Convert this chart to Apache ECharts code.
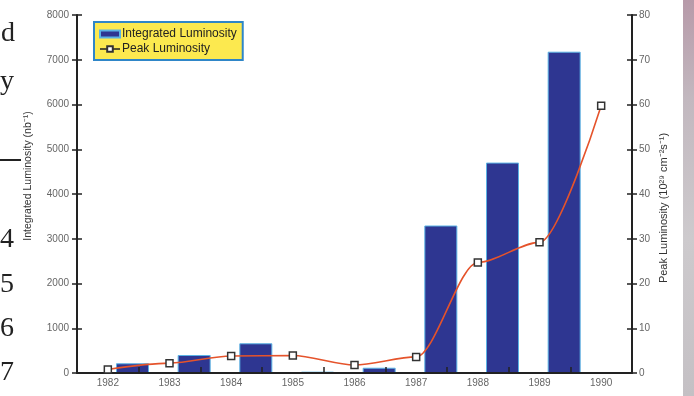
<!DOCTYPE html>
<html>
<head>
<meta charset="utf-8">
<script src="https://cdn.jsdelivr.net/npm/echarts@6/dist/echarts.min.js"></script>
<style>
  html, body { margin: 0; padding: 0; background: #fff; }
  #chart { width: 694px; height: 396px; }
</style>
</head>
<body>
<div id="chart"></div>
<script>
// Collider luminosity by running year
const years = [1982, 1983, 1984, 1985, 1986, 1987, 1988, 1989, 1990];
const barYears = [1982, 1983, 1984, 1985, 1986, 1987, 1988, 1989];
const integratedLumi = [217, 402, 664, 30, 118, 3296, 4702, 7180];      // nb^-1
const peakLumi = [0.8, 2.2, 3.8, 3.9, 1.8, 3.6, 24.7, 29.2, 59.7];       // 10^29 cm^-2 s^-1
const leftTicks = [0, 1000, 2000, 3000, 4000, 5000, 6000, 7000, 8000];
const rightTicks = [0, 10, 20, 30, 40, 50, 60, 70, 80];

// each year's bar sits in the half-year after its label
const BAR_SHIFT = 0.4;
const boundaries = years.slice(0, -1).map(y => y + 0.5);

const axisFont = "'Liberation Sans', Arial, sans-serif";
const serifFont = "'Liberation Serif', 'DejaVu Serif', serif";
const labelStyle = { color: '#666', fontSize: 10, fontFamily: axisFont };

const chart = echarts.init(document.getElementById('chart'));

const leftAxisBase = {
  type: 'value', min: leftTicks[0], max: leftTicks[leftTicks.length - 1],
  interval: leftTicks[1] - leftTicks[0], splitLine: { show: false }
};
const rightAxisBase = {
  type: 'value', min: rightTicks[0], max: rightTicks[rightTicks.length - 1],
  interval: rightTicks[1] - rightTicks[0], splitLine: { show: false }
};

function pageText(text, x, y) {
  return { type: 'text', x: x, y: y,
           style: { text: text, fill: '#222', fontSize: 28, fontFamily: serifFont } };
}

chart.setOption({
  animation: false,
  backgroundColor: '#fff',
  grid: { left: 77, right: 62, top: 15, bottom: 23, containLabel: false },
  legend: {
    orient: 'vertical',
    left: 94, top: 22,
    padding: [6, 6, 5, 5],
    itemGap: 3,
    itemWidth: 20, itemHeight: 7,
    backgroundColor: '#fce94f',
    borderColor: '#2f86c8',
    borderWidth: 2,
    textStyle: { color: '#222', fontSize: 12, fontFamily: axisFont, padding: [0, 0, 0, -3] },
    data: [
      { name: 'Integrated Luminosity', icon: 'rect' },
      { name: 'Peak Luminosity', lineStyle: { color: '#222', width: 1.5 } }
    ]
  },
  xAxis: [
    {
      type: 'value', position: 'bottom', z: 4,
      min: years[0] - 0.5, max: years[years.length - 1] + 0.5,
      splitLine: { show: false },
      axisLine: { show: true, lineStyle: { color: '#222', width: 2 } },
      axisTick: { show: true, inside: true, length: 6, customValues: boundaries,
                  lineStyle: { color: '#222', width: 1.5 } },
      axisLabel: { ...labelStyle, margin: 5, customValues: years, formatter: v => String(v) }
    },
    {
      type: 'value', position: 'top',
      min: years[0] - 0.5, max: years[years.length - 1] + 0.5,
      splitLine: { show: false },
      axisLine: { show: true, lineStyle: { color: '#777', width: 2 } },
      axisTick: { show: false }, axisLabel: { show: false }
    }
  ],
  yAxis: [
    {
      ...leftAxisBase, position: 'left',
      axisLine: { show: true, lineStyle: { color: '#222', width: 2 } },
      axisTick: { show: true, length: 5, lineStyle: { color: '#222', width: 1.5 } },
      axisLabel: { ...labelStyle, margin: 8, formatter: v => String(v) }
    },
    {
      ...rightAxisBase, position: 'right',
      axisLine: { show: true, lineStyle: { color: '#222', width: 2 } },
      axisTick: { show: true, length: 5, lineStyle: { color: '#222', width: 1.5 } },
      axisLabel: { ...labelStyle, margin: 7, formatter: v => String(v) }
    },
    {
      ...leftAxisBase, position: 'left',
      axisLine: { show: false },
      axisTick: { show: true, inside: true, length: 5, lineStyle: { color: '#222', width: 1.5 } },
      axisLabel: { show: false }
    },
    {
      ...rightAxisBase, position: 'right',
      axisLine: { show: false },
      axisTick: { show: true, inside: true, length: 5, lineStyle: { color: '#222', width: 1.5 } },
      axisLabel: { show: false }
    }
  ],
  series: [
    {
      name: 'Integrated Luminosity',
      type: 'bar',
      xAxisIndex: 0, yAxisIndex: 0,
      barWidth: 33,
      itemStyle: { color: '#2e3691', borderColor: '#5ab2e4', borderWidth: 1 },
      data: barYears.map((y, i) => [y + BAR_SHIFT, integratedLumi[i]]),
      z: 2
    },
    {
      name: 'Peak Luminosity',
      type: 'line',
      xAxisIndex: 0, yAxisIndex: 1,
      smooth: 0.3,
      smoothMonotone: 'x',
      symbol: 'rect', symbolSize: 7,
      lineStyle: { color: '#e5532b', width: 1.6 },
      itemStyle: { color: '#fff', borderColor: '#333', borderWidth: 1.5 },
      data: years.map((y, i) => [y, peakLumi[i]]),
      z: 5
    }
  ],
  graphic: [
    {
      type: 'text', rotation: Math.PI / 2, x: 28, y: 176,
      style: { text: 'Integrated Luminosity (nb⁻¹)', fill: '#333', fontSize: 10.5,
               fontFamily: axisFont, align: 'center', verticalAlign: 'middle' }
    },
    {
      type: 'text', rotation: Math.PI / 2, x: 664, y: 208,
      style: { text: 'Peak Luminosity (10²⁹ cm⁻²s⁻¹)', fill: '#333', fontSize: 11,
               fontFamily: axisFont, align: 'center', verticalAlign: 'middle' }
    },
    // neighbouring page text and edge of the facing page
    pageText('d', 1, 20),
    pageText('y', 0, 68),
    { type: 'rect', shape: { x: 0, y: 159, width: 21, height: 2 }, style: { fill: '#222' } },
    pageText('4', 0, 226),
    pageText('5', 0, 271),
    pageText('6', 0, 315),
    pageText('7', 0, 359),
    {
      type: 'rect', shape: { x: 683, y: 0, width: 11, height: 396 },
      style: {
        fill: new echarts.graphic.LinearGradient(0, 0, 0, 1, [
          { offset: 0, color: '#b79aa9' },
          { offset: 0.25, color: '#c2b8bf' },
          { offset: 0.6, color: '#cdcacd' },
          { offset: 1, color: '#c4c0c4' }
        ])
      }
    }
  ]
});
</script>
</body>
</html>
